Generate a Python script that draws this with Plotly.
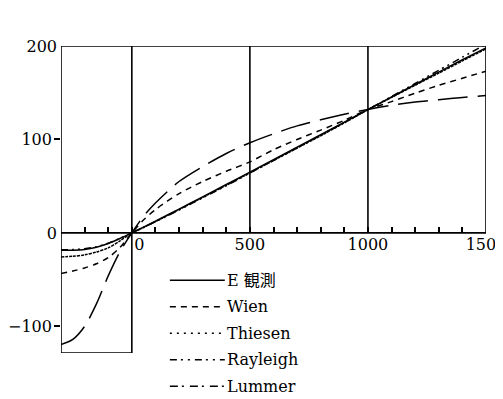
import plotly.graph_objects as go

# ---------------- data ----------------
temps = [-300, -250, -200, -150, -100, -50, 0, 50, 100, 200, 300, 400, 500,
         600, 700, 800, 900, 1000, 1100, 1200, 1300, 1400, 1500]

e_obs = [-18.6, -18.5, -17.7, -15.3, -11.3, -6.0, 0, 6.2, 12.5, 25.5, 38.6, 51.8, 65.0,
         78.3, 91.7, 105.0, 118.5, 132.0, 145.4, 158.8, 172.1, 185.3, 198.0]
wien = [-43.5, -40.8, -37.5, -33.0, -26.5, -15.5, 0, 14.0, 25.0, 42.0, 55.0, 66.0, 76.0,
        89.0, 100.0, 110.0, 120.5, 132.0, 140.5, 149.5, 158.0, 165.5, 173.0]
thiesen = [-25.7, -25.0, -23.5, -20.5, -16.0, -8.5, 0, 6.0, 12.2, 25.0, 38.0, 51.0, 64.3,
           77.5, 90.8, 104.0, 117.7, 132.0, 145.0, 158.0, 171.0, 184.0, 197.0]
rayleigh = [-18.0, -17.8, -17.0, -14.8, -11.0, -5.8, 0, 5.8, 12.0, 24.5, 37.5, 50.5, 64.0,
            77.5, 91.0, 104.5, 118.2, 132.0, 146.0, 160.0, 174.0, 188.0, 202.0]
lummer = [-119.5, -114.0, -100.0, -76.0, -46.0, -20.0, 0, 18.0, 32.0, 55.0, 71.0, 85.0, 96.5,
          106.0, 114.5, 121.0, 127.0, 132.0, 136.5, 140.0, 142.5, 145.0, 147.0]

series_names = ["E 観測", "Wien", "Thiesen", "Rayleigh", "Lummer"]
series_values = [e_obs, wien, thiesen, rayleigh, lummer]

x_tick_vals = list(range(-300, 1501, 100))
x_label_text = {0: "\u00a0\u00a0\u00a00", 500: "500", 1000: "1000", 1500: "1500"}
y_tick_vals = [-100, 0, 100, 200]
y_tick_labels = ["\u2212100\u00a0", "0", "100\u00a0", "200"]
y_minor_ticks = [-100, 100]

# ---------------- styles ----------------
# the page body adds an 8px offset, so the figure is sized to the remaining window
OFF = 8
X_MIN, X_MAX = -300, 1500
Y_MIN, Y_MAX = -128.5, 200
W, H = 503 - OFF, 399 - OFF
ML, MT = 61 - OFF, 46 - OFF
MR = W - (486.5 - OFF)
MB = H - (352.7 - OFF)
FONT = "DejaVu Serif, Noto Sans CJK JP, serif"
FS = 16
LW = 1.5

plot_dashes = ["solid", "6px,5px", "3px,1px", "7px,4px,2px,4px,2px,4px", "30px,10px"]
legend_dashes = ["solid", "6px,5px", "2px,5px", "7px,4px,2px,5px,2px,5px", "8px,4px,2px,6px"]

fig = go.Figure()
for name, vals, dash in zip(series_names, series_values, plot_dashes):
    fig.add_trace(go.Scatter(x=temps, y=vals, mode="lines", name=name,
                             line=dict(color="black", width=LW, dash=dash, shape="spline",
                                       smoothing=0.8),
                             showlegend=False))
# empty trace to carry the tick-only axis
fig.add_trace(go.Scatter(x=[], y=[], yaxis="y2", showlegend=False))

# frame segments (data coordinates)
frame = [
    (X_MIN, Y_MAX, X_MAX, Y_MAX),   # top
    (X_MIN, Y_MIN, X_MIN, Y_MAX),   # left
    (X_MAX, 0, X_MAX, Y_MAX),       # right
    (X_MIN, Y_MIN, 0, Y_MIN),       # bottom of lower-left box
    (0, Y_MIN, 0, Y_MAX),           # x = 0
    (500, 0, 500, Y_MAX),
    (1000, 0, 1000, Y_MAX),
    (X_MIN, 0, X_MAX, 0),           # x axis line
]
shapes = []
for x0, y0, x1, y1 in frame:
    shapes.append(dict(type="line", xref="x", yref="y", x0=x0, y0=y0, x1=x1, y1=y1,
                       line=dict(color="black", width=1.6)))

# manual legend (positions given in window pixels)
pw = W - ML - MR
ph = H - MT - MB
def px2paper_x(px):
    return (px - OFF - ML) / pw
def px2paper_y(py):
    return 1 - (py - OFF - MT) / ph

legend_rows = [280, 306.5, 333, 359.5, 386]
annotations = []
for name, dash, ry in zip(series_names, legend_dashes, legend_rows):
    shapes.append(dict(type="line", xref="paper", yref="paper",
                       x0=px2paper_x(170), x1=px2paper_x(225),
                       y0=px2paper_y(ry), y1=px2paper_y(ry),
                       line=dict(color="black", width=LW, dash=dash)))
    annotations.append(dict(xref="paper", yref="paper", x=px2paper_x(225), y=px2paper_y(ry),
                            text=name, showarrow=False, xanchor="left", yanchor="middle",
                            font=dict(family=FONT, size=FS, color="black")))

fig.update_layout(
    template="none",
    width=W, height=H,
    margin=dict(l=ML, r=MR, t=MT, b=MB, pad=0, autoexpand=False),
    paper_bgcolor="white", plot_bgcolor="white",
    font=dict(family=FONT, size=FS, color="black"),
    shapes=shapes, annotations=annotations,
    xaxis=dict(range=[X_MIN, X_MAX], tickvals=x_tick_vals,
               ticktext=[x_label_text.get(v, "") for v in x_tick_vals],
               ticks="inside", ticklen=6, tickwidth=1.5, tickcolor="black",
               anchor="free", position=(0 - Y_MIN) / (Y_MAX - Y_MIN),
               showline=False, zeroline=False, showgrid=False, automargin=False,
               ticklabeloverflow="allow",
               tickfont=dict(family=FONT, size=FS, color="black")),
    yaxis=dict(range=[Y_MIN, Y_MAX], tickvals=y_tick_vals, ticktext=y_tick_labels,
               ticks="", showline=False, zeroline=False, showgrid=False, automargin=False,
               ticklabelstandoff=3,
               tickfont=dict(family=FONT, size=FS, color="black")),
    yaxis2=dict(range=[Y_MIN, Y_MAX], overlaying="y", anchor="x", side="left",
                tickvals=y_minor_ticks, ticks="outside", ticklen=6, tickwidth=1.5,
                tickcolor="black", showticklabels=False, showline=False,
                zeroline=False, showgrid=False, automargin=False),
)

fig.write_html("out.html")
